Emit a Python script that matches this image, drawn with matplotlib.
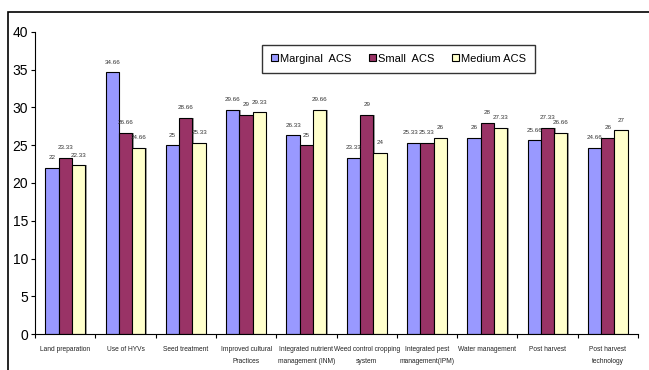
#!/usr/bin/env python3
"""ACS 別の技術採用率 (%) を 10 項目の棒グラフで描く．"""

import matplotlib.pyplot as plt
import numpy as np
from matplotlib.patches import Rectangle

plt.rcParams["font.family"] = ["Liberation Sans", "DejaVu Sans"]

# --------------------------------------------------------------------------- #
# データ
# --------------------------------------------------------------------------- #
categories = [
    "Land preparation",
    "Use of HYVs",
    "Seed treatment",
    "Improved cultural\nPractices",
    "Integrated nutrient\nmanagement (INM)",
    "Weed control cropping\nsystem",
    "Integrated pest\nmanagement(IPM)",
    "Water management",
    "Post harvest",
    "Post harvest\ntechnology",
]
series_names = ["Marginal  ACS", "Small  ACS", "Medium ACS"]
marginal = [22, 34.66, 25, 29.66, 26.33, 23.33, 25.33, 26, 25.66, 24.66]
small = [23.33, 26.66, 28.66, 29, 25, 29, 25.33, 28, 27.33, 26]
medium = [22.33, 24.66, 25.33, 29.33, 29.66, 24, 26, 27.33, 26.66, 27]
yticks = [0, 5, 10, 15, 20, 25, 30, 35, 40]

COLORS = ["#9999FF", "#993366", "#FFFFCC"]

# --------------------------------------------------------------------------- #
# 描画
# --------------------------------------------------------------------------- #
fig = plt.figure(figsize=(6.49, 3.70), dpi=100, facecolor="white")
ax = fig.add_axes([0.054, 0.097, 0.929, 0.817])

# 図全体の枠 (上辺と左辺のみ見える)
fig.patches.append(Rectangle((8 / 649, -0.1), 1.2, 1.1 - 12 / 370,
                             transform=fig.transFigure, fill=False,
                             edgecolor="black", lw=1.2))

x = np.arange(len(categories))
w = 0.22
all_series = [marginal, small, medium]
for k, (vals, name, col) in enumerate(zip(all_series, series_names, COLORS)):
    pos = x + (k - 1) * w
    # 右側の薄い影
    ax.bar(pos + 0.025, vals, w, color="#A0A0A0", zorder=1)
    bars = ax.bar(pos, vals, w, color=col, edgecolor="black", lw=0.8,
                  label=name, zorder=2)
    for i, (b, v) in enumerate(zip(bars, vals)):
        # 隣の棒と同じ値なら左に少しずらして重なりを避ける
        dx = 0.0
        if k < 2 and all_series[k + 1][i] == v:
            dx = -0.05
        ax.text(b.get_x() + b.get_width() / 2 + dx, v + 1.0, f"{v:g}",
                ha="center", va="bottom", fontsize=4.5, color="#333333")

ax.set_xlim(-0.5, len(categories) - 0.5)
ax.set_ylim(0, 40)
ax.set_yticks(yticks)
ax.tick_params(axis="y", labelsize=10, length=3, width=0.8, pad=2)
ax.set_xticks(np.arange(len(categories) + 1) - 0.5)
ax.set_xticklabels([])
ax.tick_params(axis="x", length=3, width=0.8)
for i, c in enumerate(categories):
    ax.text(i, -1.6, c, ha="center", va="top", fontsize=4.8,
            linespacing=2.0, color="#222222")

for s in ["top", "right"]:
    ax.spines[s].set_visible(False)
ax.spines["left"].set_linewidth(0.8)
ax.spines["bottom"].set_linewidth(0.8)

leg = ax.legend(loc="upper left", bbox_to_anchor=(0.368, 0.975), ncol=3,
                fontsize=8, frameon=True, fancybox=False, edgecolor="black",
                handlelength=0.6, handleheight=0.6, handletextpad=0.2,
                columnspacing=1.6, borderpad=0.8)
leg.get_frame().set_linewidth(1.0)

fig.savefig("out.png", dpi=100)
